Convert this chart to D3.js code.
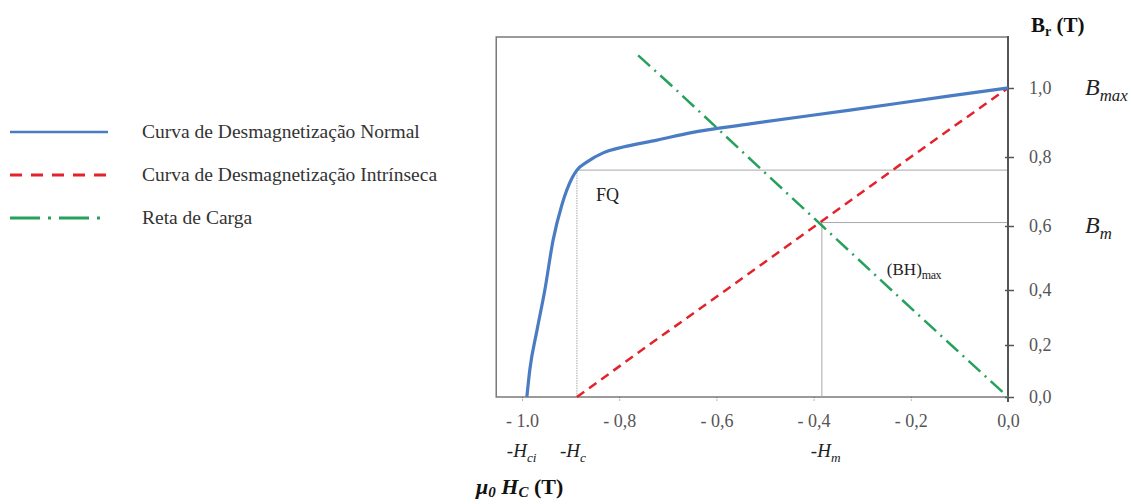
<!DOCTYPE html>
<html>
<head>
<meta charset="utf-8">
<script src="https://cdn.jsdelivr.net/npm/d3@7"></script>
<style>
  body { margin: 0; background: #fff; }
  svg { display: block; font-family: "Liberation Serif", "DejaVu Serif", serif; }
</style>
</head>
<body>
<svg id="chart"></svg>
<script>
// reading of the picture
var xTicks = [-1.0, -0.8, -0.6, -0.4, -0.2, 0.0];
var xTickLabels = ["- 1.0", "- 0,8", "- 0,6", "- 0,4", "- 0,2", "0,0"];
var yTicks = [0.0, 0.2, 0.4, 0.6, 0.8, 1.0];
var yTickLabels = ["0,0", "0,2", "0,4", "0,6", "0,8", "1,0"];

// normal demagnetization curve
var normalH = [-0.990, -0.984, -0.969, -0.953, -0.936, -0.918, -0.897, -0.887, -0.866, -0.833, -0.792, -0.722, -0.654, -0.531, -0.325, -0.119, 0.0];
var normalB = [0.0, 0.104, 0.255, 0.400, 0.556, 0.661, 0.739, 0.762, 0.786, 0.812, 0.829, 0.849, 0.870, 0.896, 0.936, 0.977, 1.0];

// intrinsic curve (straight)
var intrinsicH = [-0.887, -0.739, -0.580, -0.397, -0.200, 0.0];
var intrinsicB = [0.0, 0.2, 0.4, 0.6, 0.8, 1.0];

// load line
var loadH = [-0.761, -0.687, -0.535, -0.382, -0.240, -0.117, 0.0];
var loadB = [1.096, 1.0, 0.8, 0.6, 0.4, 0.2, 0.0];

var hci = -0.99, hc = -0.887, fqB = 0.762;
var hm = -0.383, bm = 0.61;
var hMin = -1.053, bMax = 1.15;

var legendNames = ["Curva de Desmagnetização Normal", "Curva de Desmagnetização Intrínseca", "Reta de Carga"];

var W = 1132, H = 504;
var blue = "#4a7cc3", red = "#e3232c", green = "#26a15c";

var svg = d3.select("#chart").attr("width", W).attr("height", H);

var x = d3.scaleLinear().domain([-1, 0]).range([522, 1008]);
// the drawn B axis is not evenly spaced
var y = d3.scaleLinear().domain([0, 0.2, 0.4, 0.6, 0.8, 1.0, 1.15]).range([397, 345, 290, 226, 157, 88, 37]);

var toPts = function (hs, bs) { return hs.map(function (h, i) { return [h, bs[i]]; }); };
var line = d3.line().x(function (d) { return x(d[0]); }).y(function (d) { return y(d[1]); });

// frame
svg.append("path")
  .attr("d", "M" + x(0) + "," + y(bMax) + "H" + x(hMin) + "V" + y(0) + "H" + x(0))
  .attr("fill", "none").attr("stroke", "#7a7a7a").attr("stroke-width", 1.5);

// guide lines
var guides = svg.append("g").attr("stroke", "#a8a8a8").attr("stroke-width", 1).attr("fill", "none");
guides.append("line").attr("x1", x(hc)).attr("x2", x(0)).attr("y1", y(fqB)).attr("y2", y(fqB));
guides.append("line").attr("x1", x(hc)).attr("x2", x(hc)).attr("y1", y(fqB)).attr("y2", y(0)).attr("stroke-dasharray", "1.5,1");
guides.append("line").attr("x1", x(hm)).attr("x2", x(0)).attr("y1", y(bm)).attr("y2", y(bm));
guides.append("line").attr("x1", x(hm)).attr("x2", x(hm)).attr("y1", y(bm)).attr("y2", y(0));

// x axis
var xAxis = svg.append("g")
  .attr("transform", "translate(0," + y(0) + ")")
  .call(d3.axisBottom(x).tickValues(xTicks).tickFormat(function (d, i) { return xTickLabels[i]; }).tickSizeOuter(0).tickSize(5).tickPadding(12));
xAxis.select(".domain").remove();
xAxis.selectAll("line").attr("stroke", "#666").attr("stroke-dasharray", "1,1.5");
xAxis.selectAll("text").attr("font-family", "Liberation Serif").attr("font-size", 18).attr("fill", "#555");

// y axis on the right
var yAxis = svg.append("g")
  .attr("transform", "translate(" + x(0) + ",0)")
  .call(d3.axisRight(y).tickValues(yTicks).tickFormat(function (d, i) { return yTickLabels[i]; }).tickSizeOuter(0).tickSize(6).tickPadding(15));
yAxis.select(".domain").attr("d", "M0," + (y(bMax) - 1) + "V" + (y(0) + 5)).attr("stroke", "#555").attr("stroke-width", 2);
yAxis.selectAll("line").attr("stroke", "#555").attr("x1", -3).attr("stroke-width", 1.5);
yAxis.selectAll("text").attr("font-family", "Liberation Serif").attr("font-size", 18).attr("fill", "#555");

// curves
svg.append("path").datum(toPts(intrinsicH, intrinsicB)).attr("d", line)
  .attr("fill", "none").attr("stroke", red).attr("stroke-width", 2.5).attr("stroke-dasharray", "9,6");
svg.append("path").datum(toPts(loadH, loadB)).attr("d", line)
  .attr("fill", "none").attr("stroke", green).attr("stroke-width", 2.5).attr("stroke-dasharray", "16,6,2,6");
svg.append("path").datum(toPts(normalH, normalB)).attr("d", line.curve(d3.curveMonotoneX))
  .attr("fill", "none").attr("stroke", blue).attr("stroke-width", 3.2);

// labels inside
svg.append("text").attr("x", x(hc) + 19).attr("y", y(fqB) + 31).attr("font-size", 18).attr("fill", "#222").text("FQ");
var bh = svg.append("text").attr("x", x(hm) + 65).attr("y", y(bm) + 52).attr("font-size", 17).attr("fill", "#222");
bh.append("tspan").text("(BH)");
bh.append("tspan").attr("font-size", 12).attr("dy", 4).attr("letter-spacing", -0.5).text("max");

// symbol labels
var sym = function (tx, ty, main, sub, fs) {
  var t = svg.append("text").attr("x", tx).attr("y", ty).attr("font-style", "italic").attr("font-size", fs).attr("fill", "#222");
  t.append("tspan").text(main);
  t.append("tspan").attr("font-size", fs * 0.7).attr("dy", fs * 0.25).text(sub);
  return t;
};
sym(x(0) + 77, y(1.0) + 7, "B", "max", 24);
sym(x(0) + 77, y(0.6) + 7, "B", "m", 24);
sym(x(hci) - 20, y(0) + 60, "-H", "ci", 19);
sym(x(hc) - 17, y(0) + 60, "-H", "c", 19);
sym(x(hm) - 11, y(0) + 60, "-H", "m", 19);

var br = svg.append("text").attr("x", x(0) + 23).attr("y", 32).attr("font-weight", "bold").attr("font-size", 21).attr("fill", "#111");
br.append("tspan").text("B");
br.append("tspan").attr("font-size", 14).attr("dy", 4).text("r");
br.append("tspan").attr("dy", -4).text(" (T)");

var mu = svg.append("text").attr("x", 476).attr("y", 494).attr("font-weight", "bold").attr("font-size", 22).attr("fill", "#111");
mu.append("tspan").attr("font-style", "italic").text("μ");
mu.append("tspan").attr("font-style", "italic").attr("font-size", 15).attr("dy", 3).text("0");
mu.append("tspan").attr("font-style", "italic").attr("dy", -3).text(" H");
mu.append("tspan").attr("font-style", "italic").attr("font-size", 15).attr("dy", 3).text("C");
mu.append("tspan").attr("dy", -3).text(" (T)");

// legend
var legend = svg.append("g");
var styles = [
  { c: blue, dash: null, w: 2.5 },
  { c: red, dash: "12,9", w: 3 },
  { c: green, dash: "30,8,3,8", w: 3 }
];
legendNames.forEach(function (name, i) {
  var g = legend.append("g").attr("transform", "translate(0," + (132 + i * 43) + ")");
  g.append("line").attr("x1", 10).attr("x2", 108).attr("y1", 0).attr("y2", 0)
    .attr("stroke", styles[i].c).attr("stroke-width", styles[i].w)
    .attr("stroke-dasharray", styles[i].dash);
  g.append("text").attr("x", 142).attr("y", 6).attr("font-size", 19.5).attr("fill", "#333").text(name);
});
</script>
</body>
</html>
